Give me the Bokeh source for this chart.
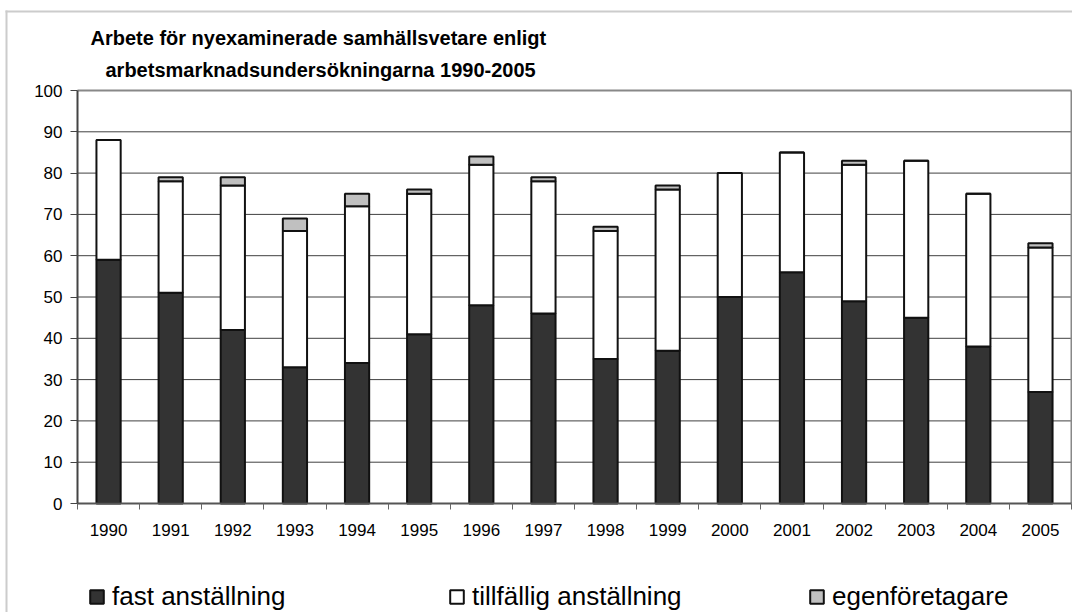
from bokeh.plotting import figure
from bokeh.models import (FixedTicker, Legend, LegendItem, Label, BoxAnnotation,
                          ColumnDataSource, Range1d)
from bokeh.embed import file_html
from bokeh.resources import INLINE

years = ["1990", "1991", "1992", "1993", "1994", "1995", "1996", "1997",
         "1998", "1999", "2000", "2001", "2002", "2003", "2004", "2005"]
fast = [59, 51, 42, 33, 34, 41, 48, 46, 35, 37, 50, 56, 49, 45, 38, 27]
tillfallig = [29, 27, 35, 33, 38, 34, 34, 32, 31, 39, 30, 29, 33, 38, 37, 35]
egen = [0, 1, 2, 3, 3, 1, 2, 1, 1, 1, 0, 0, 1, 0, 0, 1]
series_names = ["fast anställning", "tillfällig anställning", "egenföretagare"]
title_lines = ["Arbete för nyexaminerade samhällsvetare enligt",
               "arbetsmarknadsundersökningarna 1990-2005"]
y_ticks = list(range(0, 101, 10))

FONT = "Liberation Sans"
W, H = 1072, 612
# pixel box of the plotting area inside the canvas
PL, PR, PT, PB = 77, 1071, 90, 503
n = len(years)
sx = (PR - PL) / n          # px per category
sy = (PB - PT) / 100.0      # px per unit

def X(px):
    return (px - PL) / sx

def Y(py):
    return (PB - py) / sy

xs = [i + 0.5 for i in range(n)]
src = ColumnDataSource(dict(x=xs, fast=fast, till=tillfallig, egen=egen))

p = figure(width=W, height=H, title=None,
           x_range=Range1d(X(0), X(W)), y_range=Range1d(Y(H), Y(0)),
           output_backend="svg", toolbar_location=None,
           min_border=0)
p.background_fill_color = "white"
p.border_fill_color = "white"
p.outline_line_color = None
p.xgrid.visible = False
p.ygrid.visible = False

# outer chart border (light gray)
p.add_layout(BoxAnnotation(left=X(5), right=X(W + 2), top=Y(10), bottom=Y(12),
                           fill_color="#cccccc", fill_alpha=1, line_color=None,
                           level="underlay"))
p.add_layout(BoxAnnotation(left=X(5), right=X(7), top=Y(10), bottom=Y(H + 2),
                           fill_color="#cccccc", fill_alpha=1, line_color=None,
                           level="underlay"))

# horizontal gridlines
grid_y = y_ticks[1:-1]
p.segment(x0=[0] * len(grid_y), x1=[n] * len(grid_y), y0=grid_y, y1=grid_y,
          line_color="#404040", line_width=1)
# plot area border (gray top / right)
p.segment(x0=[0, n], x1=[n, n], y0=[100, 100], y1=[100, 0],
          line_color="#888888", line_width=2)

renderers = p.vbar_stack(["fast", "till", "egen"], x="x", width=0.39, source=src,
                         fill_color=["#333333", "#ffffff", "#c0c0c0"],
                         line_color="#111111", line_width=2)

# x axis, drawn at y = 0
xa = p.xaxis[0]
xa.fixed_location = 0
xa.bounds = (0, n)
xa.ticker = FixedTicker(ticks=xs, minor_ticks=list(range(0, n + 1)))
xa.major_label_overrides = {x: y for x, y in zip(xs, years)}
xa.major_tick_line_color = None
xa.major_tick_out = 6
xa.major_tick_in = 0
xa.minor_tick_out = 6
xa.minor_tick_in = 0
xa.minor_tick_line_color = "#666666"
xa.axis_line_color = "#555555"
xa.axis_line_width = 2
xa.major_label_standoff = 14
xa.major_label_text_font = FONT
xa.major_label_text_font_size = "17px"
xa.major_label_text_color = "black"

# y axis, drawn at x = 0
ya = p.yaxis[0]
ya.fixed_location = 0
ya.bounds = (0, 100)
ya.ticker = FixedTicker(ticks=y_ticks)
ya.major_tick_out = 7
ya.major_tick_in = 0
ya.minor_tick_line_color = None
ya.major_tick_line_color = "#444444"
ya.axis_line_color = "#444444"
ya.axis_line_width = 2
ya.major_label_standoff = 8
ya.major_label_text_font = FONT
ya.major_label_text_font_size = "17px"
ya.major_label_text_color = "black"

# two-line title
p.add_layout(Label(x=X(90), y=Y(37), text=title_lines[0], text_font=FONT,
                   text_font_size="20px", text_font_style="bold",
                   text_baseline="alphabetic", text_align="left", text_color="black"))
p.add_layout(Label(x=X(105), y=Y(69), text=title_lines[1], text_font=FONT,
                   text_font_size="20px", text_font_style="bold",
                   text_baseline="alphabetic", text_align="left", text_color="black"))

legend = Legend(items=[LegendItem(label=s, renderers=[r]) for s, r in zip(series_names, renderers)],
                location=(88, 0), orientation="horizontal",
                glyph_width=17, glyph_height=17, label_standoff=7,
                label_width=239, spacing=97, padding=0, margin=0,
                label_text_font=FONT, label_text_font_size="26px",
                label_text_color="black",
                border_line_alpha=0, background_fill_alpha=0)
p.add_layout(legend, "center")

open("out.html", "w").write(file_html(p, INLINE))
